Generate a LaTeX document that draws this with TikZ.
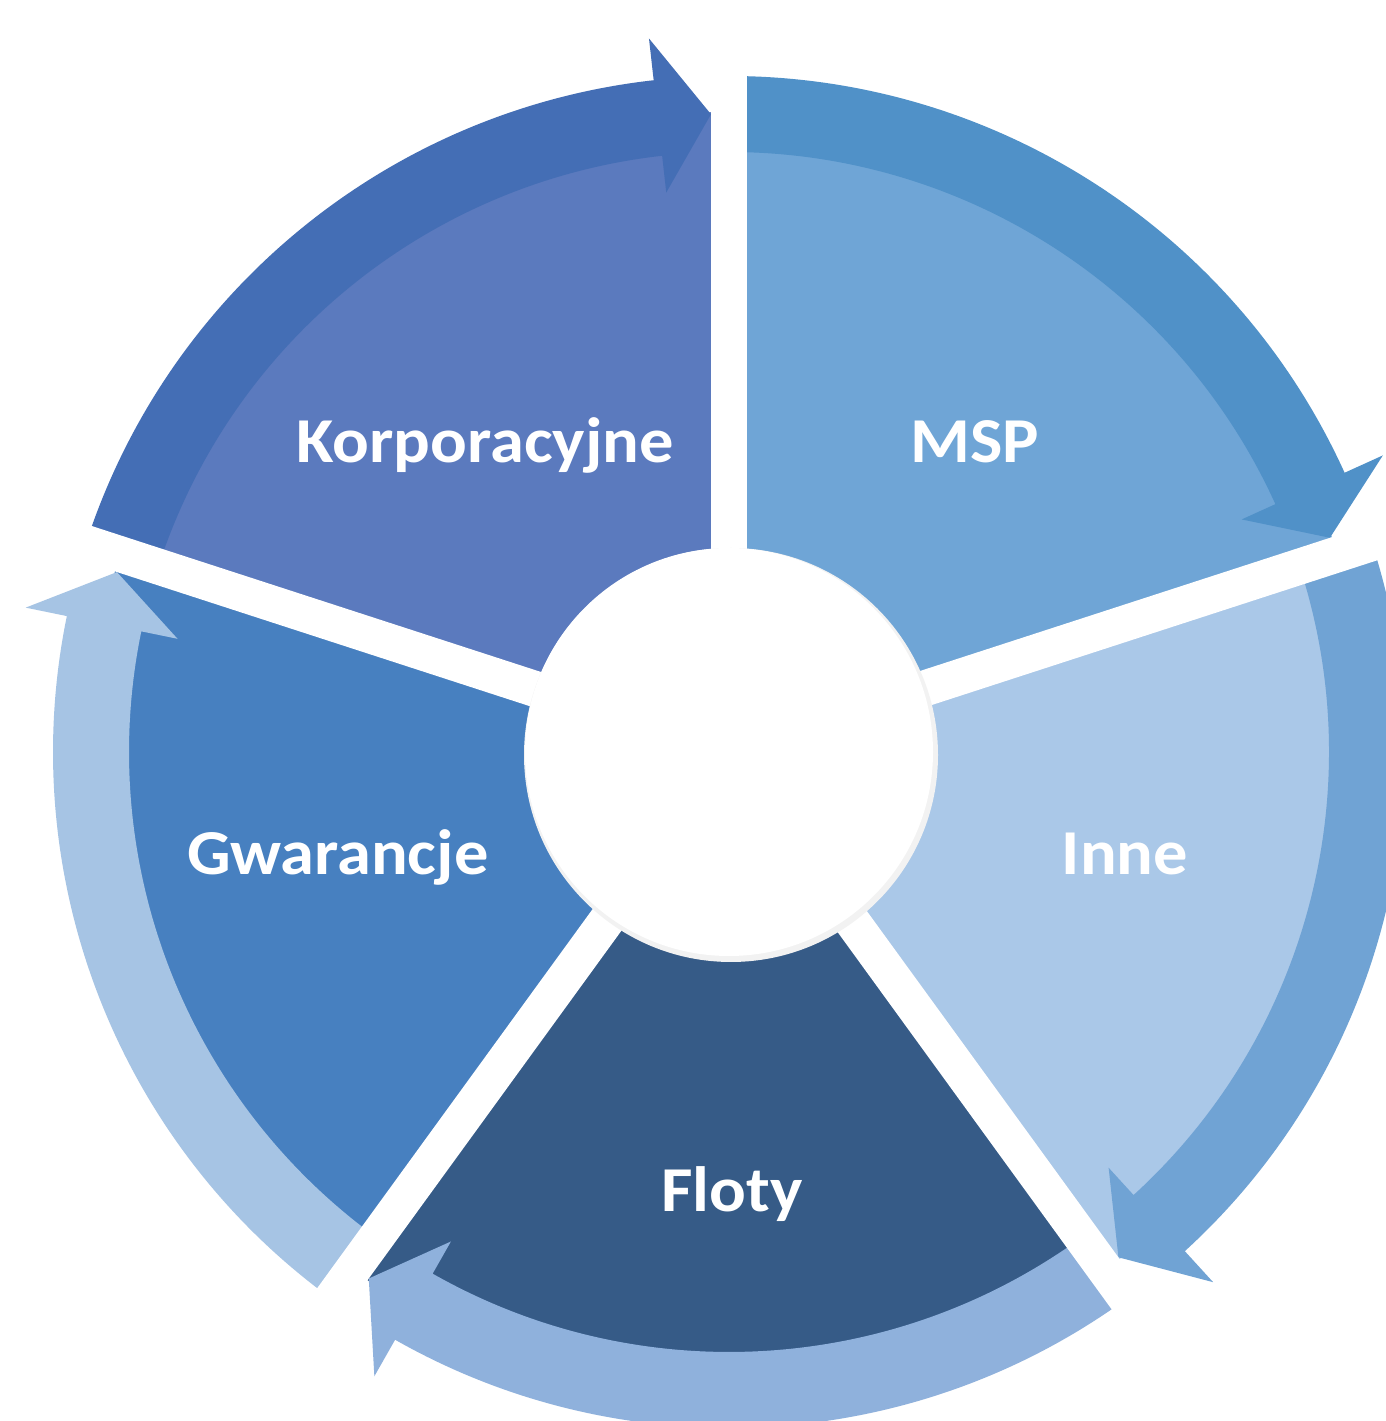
\documentclass[tikz,border=0pt]{standalone}
\usepackage{fontspec}
\setmainfont{Carlito}[FakeStretch=1.07]
\usetikzlibrary{calc}
\definecolor{korpF}{HTML}{5B7ABE}
\definecolor{korpB}{HTML}{446EB5}
\definecolor{mspF}{HTML}{6FA5D6}
\definecolor{mspB}{HTML}{5091C8}
\definecolor{inneF}{HTML}{AAC8E8}
\definecolor{inneB}{HTML}{70A3D4}
\definecolor{flotF}{HTML}{365B87}
\definecolor{flotB}{HTML}{8FB1DC}
\definecolor{gwarF}{HTML}{4780C0}
\definecolor{gwarB}{HTML}{A6C4E4}
\newcommand\cycseg[3]{%
  \pgfmathsetmacro\segE{#1-72}%
  \pgfmathsetmacro\segT{#1-72+1.62}%
  \pgfmathsetmacro\segH{#1-72+6.4}%
  \fill[#2] (0,0) -- (#1:640) arc[start angle=#1,end angle=\segE,radius=640] -- cycle;
  \fill[#3] (#1:676) arc[start angle=#1,end angle=\segH,radius=676] -- (\segH:718) -- (\segT:638) -- (\segH:563) -- (\segH:600) arc[start angle=\segH,end angle=#1,radius=600] -- cycle;
}
\tikzset{
  lab/.style={text=white, font=\fontsize{64}{70}\selectfont\bfseries, anchor=base, inner sep=0pt},
  gapline/.style={white, line width=36pt},
}
\begin{document}
\begin{tikzpicture}[x=1pt,y=1pt]
\useasboundingbox (0,0) rectangle (1386,1421);
\fill[white] (0,0) rectangle (1386,1421);
\begin{scope}[shift={(729,669)}]
  \cycseg{162}{korpF}{korpB}
  \cycseg{90}{mspF}{mspB}
  \cycseg{18}{inneF}{inneB}
  \cycseg{-54}{flotF}{flotB}
  \cycseg{-126}{gwarF}{gwarB}
  \foreach \g in {90,18,-54,-126,162} \draw[gapline] (0,0) -- (\g:800);
  \fill[black!5] (2,-3) circle (207);
  \fill[white] (0,0) circle (204);
\end{scope}
\node[lab] (korp) at (485,958) {Korporacyjne};
\node[lab] (msp) at (975,958) {MSP};
\node[lab] (gwar) at (338,546) {Gwarancje};
\node[lab] (inne) at (1125,546) {Inne};
\node[lab] (floty) at (732,209) {Floty};
\end{tikzpicture}
\end{document}
